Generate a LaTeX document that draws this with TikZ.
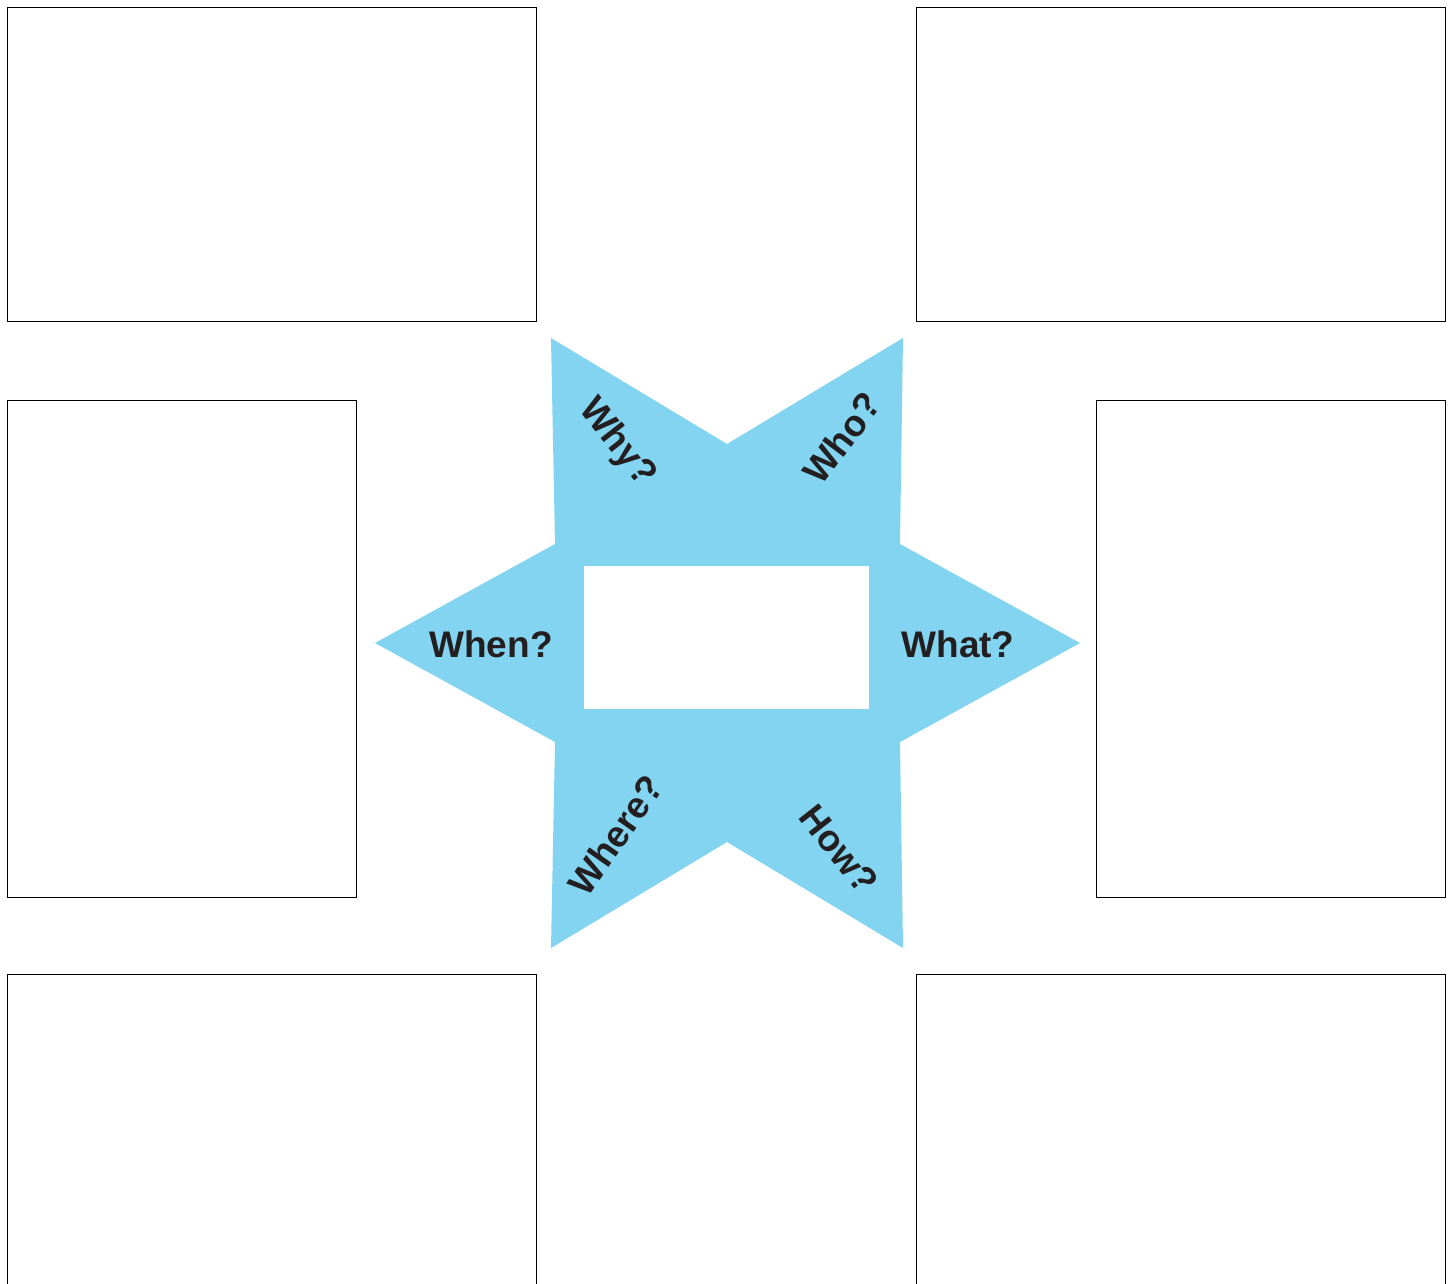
\documentclass[tikz,border=0pt]{standalone}
\usepackage{fontspec}
\setmainfont{Liberation Sans}
\definecolor{starblue}{RGB}{131,212,240}
\definecolor{ink}{RGB}{35,31,32}
\begin{document}
\begin{tikzpicture}[x=1pt,y=-1pt,
  box/.style={draw=black,line width=1pt,fill=white,inner sep=0pt,outer sep=0pt},
  lbl/.style={text=ink,font=\fontsize{37}{40}\selectfont\bfseries,inner sep=0pt}]
\clip (0,0) rectangle (1456,1284);
\fill[white] (0,0) rectangle (1456,1284);
% boxes
\node[box,minimum width=529,minimum height=313] (tl) at (271.5,164.5) {};
\node[box,minimum width=529,minimum height=313] (tr) at (1180.5,164.5) {};
\node[box,minimum width=349,minimum height=497] (ml) at (181.5,648.5) {};
\node[box,minimum width=349,minimum height=497] (mr) at (1270.5,648.5) {};
\node[box,minimum width=529,minimum height=340] (bl) at (271.5,1144) {};
\node[box,minimum width=529,minimum height=340] (br) at (1180.5,1144) {};
% star
\coordinate (s1) at (551,338);
\coordinate (s2) at (727,444);
\coordinate (s3) at (903,338);
\coordinate (s4) at (900,544);
\coordinate (s5) at (1080,643);
\coordinate (s6) at (900,742);
\coordinate (s7) at (903,948);
\coordinate (s8) at (727,842);
\coordinate (s9) at (551,948);
\coordinate (s10) at (555,742);
\coordinate (s11) at (375,643);
\coordinate (s12) at (555,544);
\fill[starblue] (s1) -- (s2) -- (s3) -- (s4) -- (s5) -- (s6) -- (s7) -- (s8) -- (s9) -- (s10) -- (s11) -- (s12) -- cycle;
\node[fill=white,inner sep=0pt,minimum width=285,minimum height=143] (centre) at (726.5,637.5) {};
% labels
\node[lbl] (when) at (491,644) {When?};
\node[lbl] (what) at (958,644) {What?};
\node[lbl,rotate=-52] (why) at (617,443) {Why?};
\node[lbl,rotate=53] (who) at (842,438) {Who?};
\node[lbl,rotate=55] (where) at (616,835) {Where?};
\node[lbl,rotate=-52] (how) at (839,849) {How?};
\end{tikzpicture}
\end{document}
